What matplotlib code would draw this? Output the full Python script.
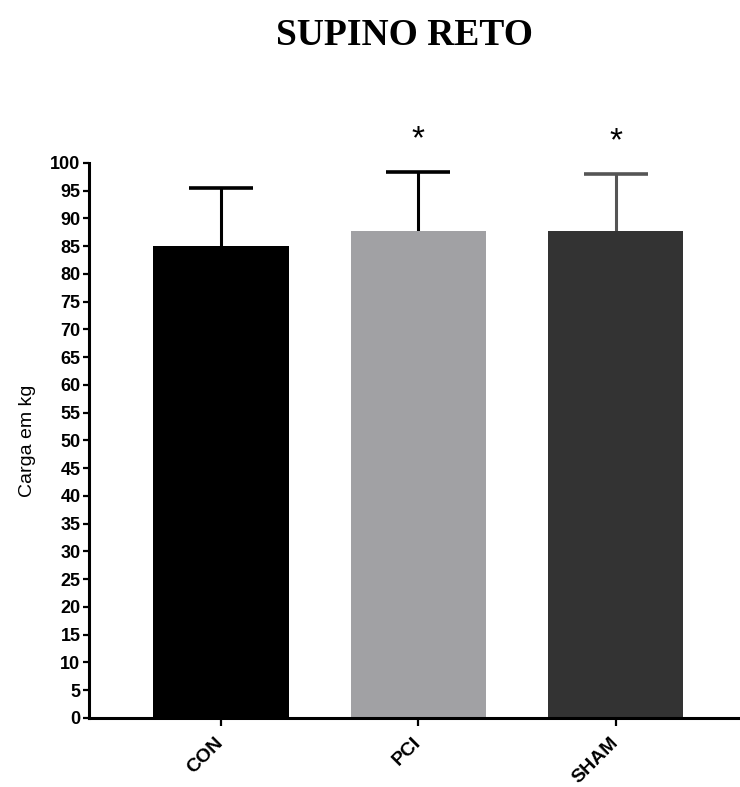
import matplotlib
matplotlib.use("Agg")
import matplotlib.pyplot as plt
import matplotlib.transforms as mtransforms
import numpy as np

# ── data ──────────────────────────────────────────────────────────────────────
groups = ["CON", "PCI", "SHAM"]
means = [85.0, 87.7, 87.7]
upper_err = [10.5, 10.7, 10.3]
significant = [False, True, True]
bar_colors = ["#000000", "#a1a1a4", "#333333"]
err_colors = ["#000000", "#000000", "#555555"]
y_ticks = list(range(0, 101, 5))

plt.rcParams["font.family"] = ["Liberation Sans", "DejaVu Sans"]

fig = plt.figure(figsize=(7.4, 7.87), dpi=100)
ax = fig.add_axes([0.120, 0.088, 0.880, 0.705])

x = np.arange(len(groups))
for xi, m, e, bc, ec in zip(x, means, upper_err, bar_colors, err_colors):
    ax.bar(xi, m, width=0.685, color=bc, zorder=2)
    _, caps, _ = ax.errorbar(xi, m, yerr=[[0], [e]], fmt="none", ecolor=ec,
                             elinewidth=2.2, capsize=23, capthick=2.6, zorder=1)
    # only the upper whisker is drawn
    caps[0].set_visible(False)

for xi, m, e, sig in zip(x, means, upper_err, significant):
    if sig:
        ax.text(xi, m + e + 3.0, "*", ha="center", va="bottom",
                fontsize=24, clip_on=False)

ax.set_xlim(-0.67, 2.63)
ax.set_ylim(0, 100)
ax.set_yticks(y_ticks)
ax.set_yticklabels([str(v) for v in y_ticks], fontsize=13, fontweight="bold")
ax.set_xticks(x)
ax.set_xticklabels(groups, rotation=45, ha="right", va="center",
                   rotation_mode="anchor", fontsize=14, fontweight="bold")
# nudge the rotated labels a little to the right of their ticks
offset = mtransforms.ScaledTranslation(5 / 72, 0, fig.dpi_scale_trans)
for lbl in ax.get_xticklabels():
    lbl.set_transform(lbl.get_transform() + offset)
ax.tick_params(axis="y", direction="out", length=4, width=1.6, pad=2)
ax.tick_params(axis="x", direction="out", length=6, width=1.6, pad=10)
ax.set_ylabel("Carga em kg", fontsize=14, labelpad=10)

for side in ("top", "right"):
    ax.spines[side].set_visible(False)
for side in ("left", "bottom"):
    ax.spines[side].set_linewidth(2.2)

fig.text(0.547, 0.955, "SUPINO RETO", ha="center", va="center",
         fontsize=27, fontweight="bold", family="Liberation Serif")

fig.savefig("out.png", dpi=100)
